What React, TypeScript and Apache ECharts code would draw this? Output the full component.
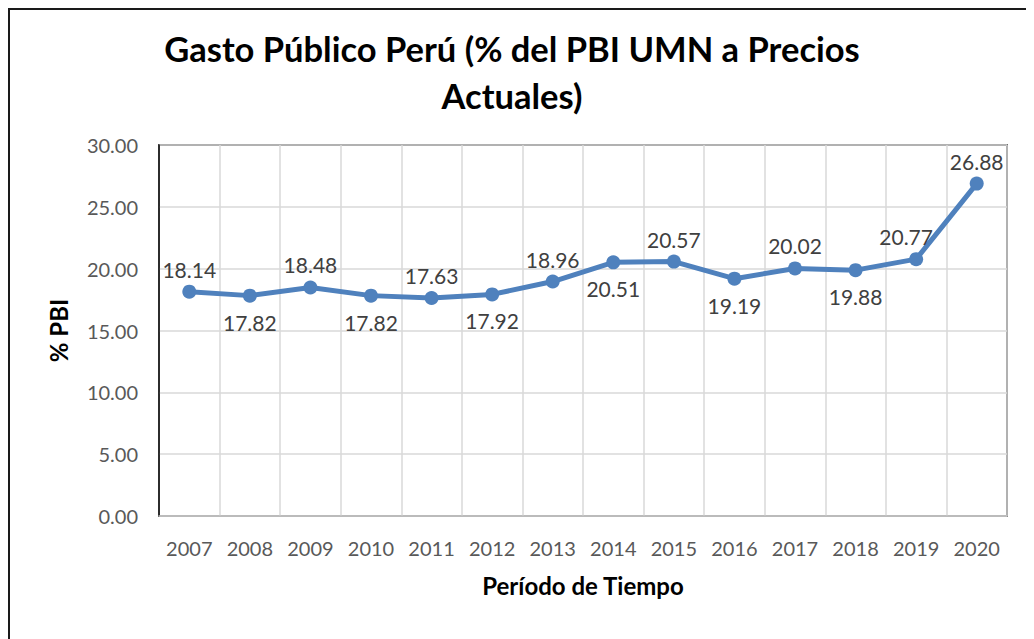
import React, { useEffect, useRef } from "react";
import * as echarts from "echarts";

const years = ["2007", "2008", "2009", "2010", "2011", "2012", "2013", "2014", "2015", "2016", "2017", "2018", "2019", "2020"];
const gasto = [18.14, 17.82, 18.48, 17.82, 17.63, 17.92, 18.96, 20.51, 20.57, 19.19, 20.02, 19.88, 20.77, 26.88];
const labelSide = ["top", "bottom", "top", "bottom", "top", "bottom", "top", "bottom", "top", "bottom", "top", "bottom", "top", "top"];
const titleLines = ["Gasto Público Perú (% del PBI UMN a Precios", "Actuales)"];

const FONT = "Lato, 'Open Sans', 'Noto Sans', sans-serif";

export default function App() {
  const ref = useRef<HTMLDivElement>(null);
  useEffect(() => {
    if (!ref.current) return;
    const chart = echarts.init(ref.current, undefined, { renderer: "svg" });
    const data = gasto.map((v, i) => ({
      value: v,
      label: {
        position: labelSide[i],
        distance: labelSide[i] === "bottom" ? 9 : 5,
        offset: i === 12 ? [-10, 0] : [0, 0],
      },
    }));
    chart.setOption({
      animation: false,
      backgroundColor: "#fff",
      textStyle: { fontFamily: FONT },
      graphic: [
        { type: "line", shape: { x1: 0, y1: 1, x2: 1026, y2: 1 }, style: { stroke: "#1a1a1a", lineWidth: 2 } },
        { type: "line", shape: { x1: 1, y1: 0, x2: 1, y2: 631 }, style: { stroke: "#1a1a1a", lineWidth: 2 } },
        ...titleLines.map((t, i) => ({
          type: "text",
          x: 504,
          y: 40 + i * 47,
          style: {
            text: t,
            font: `bold 34.5px ${FONT}`,
            fill: "#000",
            align: "center",
            verticalAlign: "middle",
          },
        })),
      ],
      grid: {
        left: 151,
        top: 137,
        right: 27,
        bottom: 123,
        containLabel: false,
        show: true,
        borderColor: "#000",
        borderWidth: 1.5,
      },
      xAxis: {
        type: "category",
        data: years,
        boundaryGap: true,
        name: "Período de Tiempo",
        nameLocation: "middle",
        nameGap: 57,
        nameTextStyle: { fontFamily: FONT, fontWeight: "bold", fontSize: 24, color: "#000" },
        axisLine: { show: true, lineStyle: { color: "#bfbfbf", width: 1.5 } },
        axisTick: { show: false },
        axisLabel: { color: "#595959", fontSize: 20, margin: 22, fontFamily: FONT, interval: 0 },
        splitLine: { show: true, lineStyle: { color: "#d9d9d9", width: 1.5 } },
      },
      yAxis: {
        type: "value",
        min: 0,
        max: 30,
        interval: 5,
        name: "% PBI",
        nameLocation: "middle",
        nameGap: 89,
        nameRotate: 90,
        nameTextStyle: { fontFamily: FONT, fontWeight: "bold", fontSize: 24, color: "#000" },
        axisLine: { show: true, lineStyle: { color: "#000", width: 1.5 } },
        axisTick: { show: false },
        axisLabel: {
          color: "#595959",
          fontSize: 20,
          margin: 21,
          fontFamily: FONT,
          formatter: (v: number) => v.toFixed(2),
        },
        splitLine: { show: true, lineStyle: { color: "#d9d9d9", width: 1.5 } },
      },
      series: [
        {
          type: "line",
          data,
          symbol: "circle",
          symbolSize: 14,
          itemStyle: { color: "#4f81bd" },
          lineStyle: { color: "#4f81bd", width: 5 },
          label: {
            show: true,
            color: "#404040",
            fontSize: 21,
            fontFamily: FONT,
            formatter: (p: any) => Number(p.value).toFixed(2),
          },
        },
      ],
    });
    return () => chart.dispose();
  }, []);
  return <div ref={ref} style={{ width: 1026, height: 631 }} />;
}
